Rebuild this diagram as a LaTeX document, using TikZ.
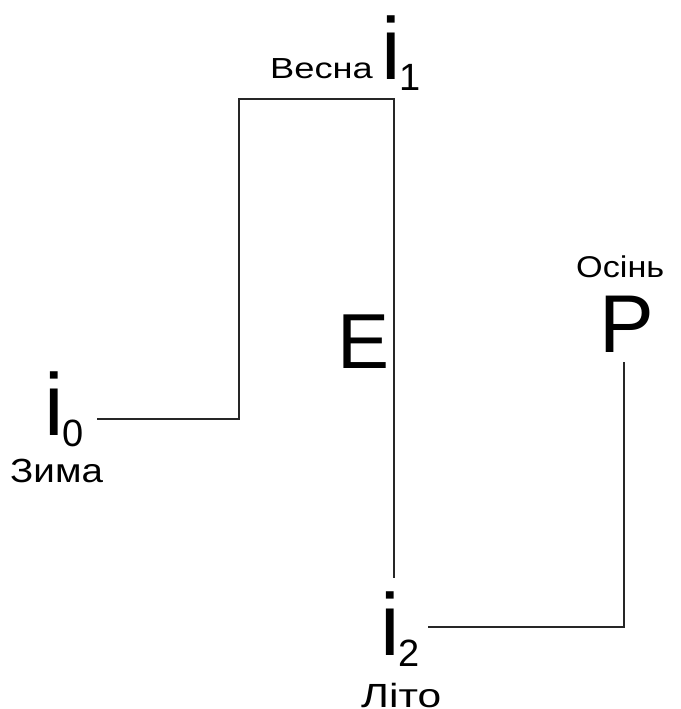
\documentclass[tikz,border=0pt]{standalone}
\usepackage{fontspec}
\setmainfont{Liberation Sans}
\usetikzlibrary{positioning}
% index letter with a lowered digit
\newcommand{\seasonidx}[1]{{\fontsize{88}{88}\selectfont i}\kern-1pt{\fontsize{38}{38}\selectfont\raisebox{-11pt}{#1}}}
% season name: size, stretch, text
\newcommand{\seasonname}[3]{\scalebox{#2}[1]{\fontsize{#1}{#1}\selectfont #3}}

\begin{document}
\begin{tikzpicture}[x=1pt,y=-1pt,
  txt/.style={inner sep=0pt,anchor=base west},
  wire/.style={line width=1.3pt,black!85}]
\useasboundingbox (0,0) rectangle (680,709);
%draw letters
\node[txt] (i0) at (44,435) {\seasonidx{0}};
\node[txt] (i1) at (381,79) {\seasonidx{1}};
\node[txt] (i2) at (380,655) {\seasonidx{2}};
\node[txt] (E) at (337,368) {\fontsize{78}{78}\selectfont E};
\node[txt] (P) at (599,352) {\fontsize{82}{82}\selectfont P};
%draw season names
\node[txt] (zima) at (10,482) {\seasonname{33.5}{1.15}{Зима}};
\node[txt] (vesna) at (270,78) {\seasonname{29}{1.25}{Весна}};
\node[txt] (osin) at (576,277) {\seasonname{30}{1.14}{Осінь}};
\node[txt] (lito) at (361,707) {\seasonname{33.5}{1.27}{Літо}};
%draw lines
\coordinate (w0) at (97,419);
\coordinate (k1) at (239,99);
\coordinate (k2) at (394,578);
\coordinate (w2) at (428,627);
\coordinate (k3) at (624,362);
\draw[wire] (w0) -| (k1) -| (k2);
\draw[wire] (w2) -| (k3);
\end{tikzpicture}
\end{document}
